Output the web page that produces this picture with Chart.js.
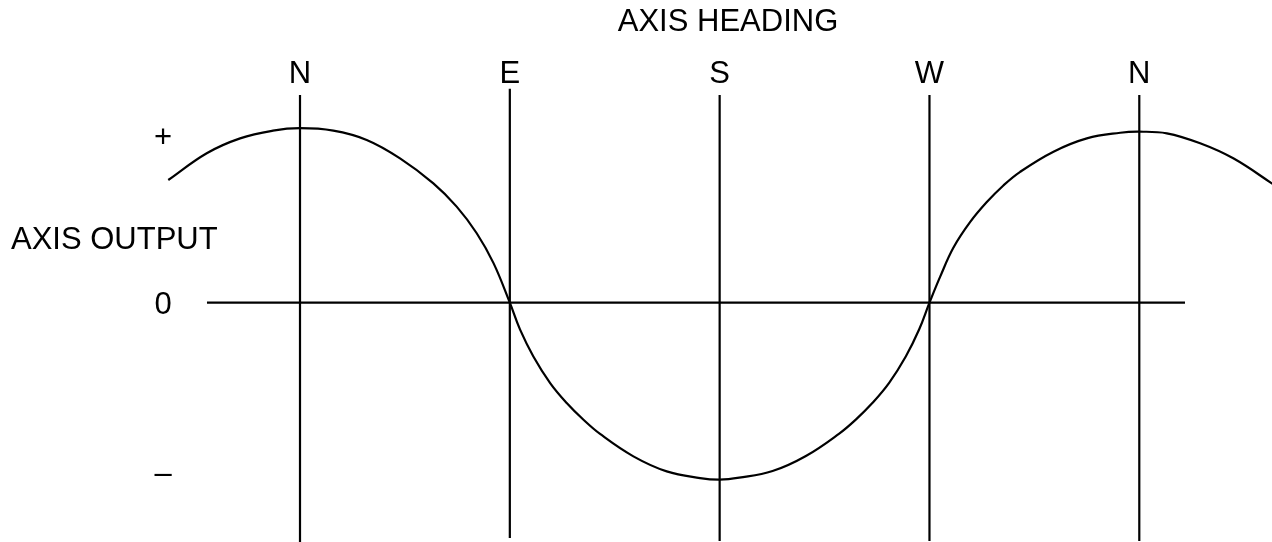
<!DOCTYPE html>
<html>
<head>
<meta charset="utf-8">
<script src="https://cdn.jsdelivr.net/npm/chart.js@4/dist/chart.umd.min.js"></script>
<style>
  html, body { margin: 0; padding: 0; background: #fff; }
  canvas { display: block; }
</style>
</head>
<body>
<canvas id="headingChart" width="1272" height="542"></canvas>
<script>
// compass headings (degrees) and their labels
const headingTicks = [0, 90, 180, 270, 360];
const headingLabels = ['N', 'E', 'S', 'W', 'N'];

// output levels and their labels
const outputTicks = [0.95, 0, -0.98];
const outputLabels = ['+', '0', '\u2013'];

// axis output vs heading
const curveHeading = [-56.5, -40, -25.7, -11.6, 0, 14.3, 28.6, 42.9, 57.2, 67.2, 75.8, 83, 90,
  94.4, 100.1, 107.3, 114.4, 121.6, 128.7, 143, 157.3, 171.6, 180,
  188.4, 202.7, 217, 231.3, 238.4, 245.6, 252.7, 259.9, 265.6, 270,
  274.6, 280.3, 287.4, 294.6, 301.7, 308.9, 323.2, 337.5, 351.8, 360,
  371.8, 386.1, 400.3, 418];
const curveOutput = [0.701, 0.854, 0.939, 0.983, 0.997, 0.983, 0.930, 0.825, 0.682, 0.549, 0.397, 0.226, 0,
  -0.154, -0.307, -0.459, -0.573, -0.669, -0.750, -0.878, -0.964, -1.002, -1.011,
  -1.0, -0.962, -0.876, -0.748, -0.668, -0.572, -0.458, -0.306, -0.152, 0,
  0.149, 0.315, 0.460, 0.575, 0.670, 0.748, 0.863, 0.939, 0.971, 0.977,
  0.968, 0.911, 0.825, 0.672];

// heading marker lines (top / bottom extent in output units)
const markerTop = [1.187, 1.222, 1.187, 1.187, 1.187];
const markerBottom = [-1.4, -1.345, -1.362, -1.362, -1.362];

// zero output line extent (degrees)
const zeroLineFrom = -39.9;
const zeroLineTo = 379.6;

const FONT = '"Liberation Sans", Arial, Helvetica, sans-serif';

const lineStyle = {
  borderColor: '#000',
  borderWidth: 2.2,
  pointRadius: 0,
  fill: false
};

const datasets = [];

headingTicks.forEach((h, i) => {
  datasets.push({
    ...lineStyle,
    data: [{ x: h, y: markerTop[i] }, { x: h, y: markerBottom[i] }]
  });
});

datasets.push({
  ...lineStyle,
  data: [{ x: zeroLineFrom, y: 0 }, { x: zeroLineTo, y: 0 }]
});

datasets.push({
  ...lineStyle,
  tension: 0.4,
  data: curveHeading.map((h, i) => ({ x: h, y: curveOutput[i] }))
});

const textPlugin = {
  id: 'diagramText',
  afterDraw(chart) {
    const ctx = chart.ctx;
    const xs = chart.scales.x;
    const ys = chart.scales.y;
    ctx.save();
    ctx.fillStyle = '#000';
    ctx.font = '31px ' + FONT;
    ctx.textBaseline = 'alphabetic';

    ctx.textAlign = 'center';
    ctx.fillText('AXIS HEADING', 728, 31);

    headingLabels.forEach((label, i) => {
      ctx.fillText(label, xs.getPixelForValue(headingTicks[i]), 83);
    });

    ctx.textAlign = 'left';
    ctx.fillText('AXIS OUTPUT', 11, 249);

    ctx.textAlign = 'center';
    outputLabels.forEach((label, i) => {
      const m = ctx.measureText(label);
      const mid = (m.actualBoundingBoxAscent - m.actualBoundingBoxDescent) / 2;
      ctx.fillText(label, 163, ys.getPixelForValue(outputTicks[i]) + mid);
    });
    ctx.restore();
  }
};

new Chart(document.getElementById('headingChart').getContext('2d'), {
  type: 'line',
  data: { datasets: datasets },
  options: {
    responsive: false,
    animation: false,
    layout: { padding: 0 },
    plugins: {
      legend: { display: false },
      tooltip: { enabled: false }
    },
    scales: {
      x: { type: 'linear', min: -128.68, max: 416.92, display: false },
      y: { type: 'linear', min: -1.3674, max: 1.7297, display: false }
    }
  },
  plugins: [textPlugin]
});
</script>
</body>
</html>
